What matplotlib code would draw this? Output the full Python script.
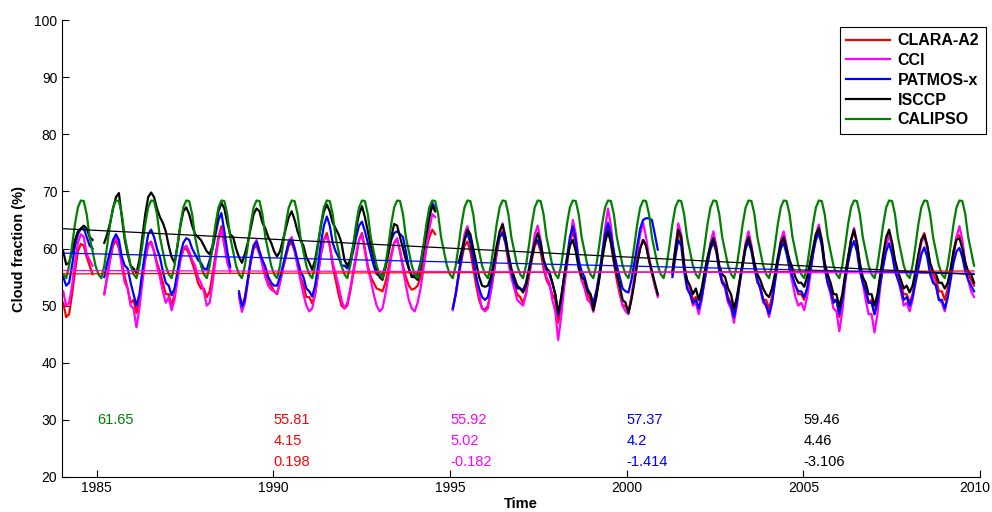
import numpy as np
import matplotlib
matplotlib.use('Agg')
import matplotlib.pyplot as plt
import matplotlib.transforms as mtransforms

nan = np.nan

# monthly cloud fraction (%), one row per year 1984..2009
clara = [
    [50.5, 48.0, 48.5, 52.0, 56.0, 59.5, 60.8, 60.5, 58.5, 57.0, 55.5, nan],
    [nan, nan, 52.0, 55.0, 58.0, 60.5, 61.5, 60.0, 57.5, 55.0, 53.0, 50.5],
    [51.0, 48.7, 51.0, 55.0, 58.5, 60.8, 61.2, 59.5, 57.5, 56.0, 54.0, 52.0],
    [52.0, 50.0, 52.0, 55.0, 58.0, 59.8, 60.0, 59.0, 57.5, 56.0, 54.0, 53.0],
    [53.0, 51.5, 52.5, 55.5, 59.0, 62.0, 63.9, 61.0, 58.0, 56.0, nan, nan],
    [52.0, 50.0, 51.5, 54.5, 57.5, 60.0, 60.5, 59.0, 57.5, 55.5, 54.0, 53.5],
    [52.5, 52.0, 54.0, 56.5, 58.5, 60.5, 61.0, 59.5, 57.0, 55.0, 53.5, 51.5],
    [51.5, 50.4, 52.0, 55.5, 59.0, 61.5, 62.7, 60.5, 57.0, 54.5, 52.0, 50.0],
    [49.5, 50.0, 52.5, 55.5, 58.5, 61.5, 62.7, 60.0, 57.0, 55.0, 54.0, 53.0],
    [52.8, 52.5, 54.0, 56.5, 59.0, 61.0, 61.5, 59.5, 57.0, 55.0, 53.5, 52.8],
    [53.0, 53.5, 55.0, 57.5, 60.0, 62.0, 63.3, 62.5, nan, nan, nan, nan],
    [nan, 49.5, 52.0, 55.0, 58.0, 60.5, 61.2, 59.5, 56.5, 53.5, 51.0, 49.5],
    [49.3, 50.0, 52.5, 55.5, 59.0, 62.0, 63.0, 61.0, 57.5, 55.0, 53.5, 52.0],
    [51.5, 50.5, 52.0, 55.0, 58.0, 60.5, 61.2, 59.5, 56.5, 54.5, 53.5, 52.0],
    [51.0, 47.0, 50.0, 54.0, 57.5, 61.0, 63.0, 61.0, 57.0, 54.5, 53.5, 52.0],
    [51.0, 49.8, 52.0, 55.0, 58.5, 61.5, 63.5, 61.0, 57.5, 54.5, 52.0, 50.0],
    [50.0, 49.0, 51.5, 54.5, 57.5, 60.0, 61.5, 60.5, 58.0, 55.5, 53.5, 51.8],
    [nan, nan, nan, nan, 55.5, 59.5, 62.5, 61.5, 57.0, 54.0, 53.0, 51.0],
    [51.5, 49.5, 51.5, 54.5, 57.5, 60.0, 61.0, 59.5, 56.5, 54.5, 53.5, 51.5],
    [50.5, 48.5, 51.0, 54.5, 57.5, 60.5, 62.0, 60.0, 57.0, 54.0, 53.5, 51.0],
    [51.0, 49.5, 51.5, 55.0, 58.0, 60.5, 61.5, 60.0, 57.0, 55.0, 53.5, 52.0],
    [52.0, 51.0, 53.0, 56.0, 59.5, 62.0, 63.2, 61.0, 57.0, 54.5, 53.0, 51.0],
    [51.0, 48.0, 51.0, 55.0, 58.5, 61.5, 63.0, 61.0, 57.0, 54.5, 53.0, 50.5],
    [51.0, 48.5, 51.0, 55.0, 58.5, 61.5, 62.7, 61.0, 57.5, 55.5, 53.5, 52.0],
    [52.0, 50.5, 52.0, 55.0, 58.5, 61.5, 62.7, 60.5, 57.0, 55.5, 54.5, 52.5],
    [52.5, 51.0, 53.0, 56.0, 59.5, 62.0, 62.3, 60.5, 57.5, 55.5, 54.5, 53.5],
]

cci = [
    [52.5, 50.0, 50.5, 53.5, 57.5, 61.0, 62.5, 62.0, 59.0, 58.0, 57.0, nan],
    [nan, nan, 52.0, 55.0, 58.5, 61.0, 62.0, 60.5, 57.0, 54.0, 53.0, 50.0],
    [49.5, 46.2, 49.5, 54.0, 58.0, 60.5, 61.0, 59.5, 57.0, 55.0, 52.5, 50.5],
    [51.5, 49.2, 51.0, 54.5, 58.0, 60.0, 60.5, 59.5, 58.0, 57.0, 55.0, 54.0],
    [52.5, 50.0, 50.5, 54.0, 58.0, 61.5, 63.3, 60.5, 57.5, 56.0, nan, nan],
    [51.5, 48.9, 50.5, 54.0, 58.0, 60.5, 61.5, 59.5, 57.0, 55.0, 53.5, 52.8],
    [52.5, 52.2, 54.0, 56.5, 59.0, 61.3, 62.0, 60.0, 57.0, 54.5, 52.0, 50.0],
    [49.0, 49.5, 52.0, 55.5, 59.0, 61.5, 62.1, 60.5, 57.5, 55.6, 53.5, 51.0],
    [49.5, 50.5, 53.0, 56.0, 59.0, 61.5, 62.4, 59.5, 56.5, 54.5, 52.0, 50.0],
    [49.0, 49.5, 52.0, 55.0, 58.5, 61.0, 61.8, 59.5, 56.5, 53.5, 51.0, 49.5],
    [49.0, 50.5, 53.0, 56.5, 60.0, 63.5, 66.0, 65.5, nan, nan, nan, nan],
    [nan, 49.2, 52.0, 55.5, 59.0, 62.5, 63.9, 62.0, 58.5, 55.0, 52.0, 49.5],
    [49.0, 49.5, 52.5, 56.0, 59.5, 62.5, 64.4, 62.0, 58.0, 55.0, 53.0, 51.0],
    [50.5, 50.0, 52.0, 55.5, 59.0, 62.5, 64.0, 61.5, 57.5, 55.0, 54.0, 51.0],
    [49.0, 44.0, 48.0, 53.0, 57.0, 61.0, 65.0, 62.5, 57.5, 54.5, 53.0, 51.0],
    [50.5, 48.9, 51.5, 55.0, 59.0, 63.5, 67.0, 64.0, 59.0, 55.5, 52.5, 50.0],
    [49.0, 48.5, 51.5, 55.0, 59.0, 62.5, 64.5, 62.0, 58.5, 56.0, 53.5, 51.5],
    [nan, nan, nan, nan, 55.5, 60.0, 64.4, 62.5, 57.5, 54.0, 52.5, 50.0],
    [50.5, 48.5, 51.0, 54.5, 58.0, 61.0, 63.0, 60.5, 56.5, 54.0, 53.0, 50.5],
    [49.5, 47.0, 50.0, 54.0, 57.5, 61.0, 63.0, 60.5, 57.0, 54.5, 53.0, 50.5],
    [50.0, 48.0, 50.5, 54.5, 58.0, 61.5, 63.0, 60.5, 56.5, 54.0, 51.5, 50.0],
    [50.5, 49.2, 51.5, 55.0, 59.0, 62.5, 64.2, 61.5, 57.0, 54.0, 52.0, 49.5],
    [49.0, 45.5, 49.0, 54.0, 58.0, 61.5, 63.6, 61.0, 57.0, 54.0, 51.0, 48.5],
    [48.5, 45.3, 48.5, 53.5, 57.0, 60.5, 62.3, 60.5, 57.0, 55.0, 52.5, 50.0],
    [50.5, 49.0, 51.0, 54.5, 58.0, 61.0, 62.2, 60.0, 56.5, 54.5, 53.5, 51.0],
    [50.5, 49.0, 51.5, 55.0, 58.5, 62.0, 63.9, 61.5, 57.5, 54.5, 52.5, 51.5],
]

patmos = [
    [55.0, 53.5, 54.0, 57.0, 60.5, 62.5, 63.5, 63.5, 62.0, 60.5, 60.0, nan],
    [nan, nan, 55.0, 57.5, 59.5, 61.5, 62.5, 61.5, 58.5, 57.0, 56.5, 54.0],
    [52.0, 50.0, 52.0, 56.0, 59.5, 62.5, 63.3, 62.0, 60.0, 58.5, 56.0, 54.0],
    [53.5, 51.8, 53.0, 56.0, 59.0, 61.0, 61.8, 61.5, 60.0, 59.0, 58.0, 57.5],
    [56.5, 56.3, 58.0, 60.0, 62.5, 65.0, 66.2, 63.0, 59.5, 56.8, nan, nan],
    [52.5, 49.8, 51.0, 54.5, 58.0, 60.5, 61.2, 59.5, 58.0, 56.8, 55.0, 54.0],
    [53.5, 53.5, 55.0, 57.0, 59.0, 61.0, 61.5, 60.0, 58.0, 56.0, 55.0, 53.0],
    [52.5, 51.6, 53.5, 57.0, 61.0, 64.0, 65.6, 64.0, 61.0, 59.5, 58.5, 57.0],
    [57.0, 56.5, 57.5, 59.5, 62.0, 64.0, 64.7, 63.0, 61.0, 59.0, 57.0, 55.5],
    [55.3, 55.5, 57.0, 59.5, 61.5, 62.7, 63.0, 62.5, 62.0, 59.5, 56.5, 55.3],
    [55.3, 55.5, 57.5, 60.5, 63.5, 66.5, 68.0, 67.0, nan, nan, nan, nan],
    [nan, 49.5, 52.0, 55.5, 58.5, 61.5, 62.7, 61.0, 58.0, 55.0, 53.0, 51.5],
    [51.0, 51.5, 54.0, 57.0, 60.0, 62.0, 62.7, 61.0, 58.5, 56.0, 54.0, 53.0],
    [53.0, 52.7, 54.0, 56.5, 59.0, 61.0, 61.5, 60.0, 58.0, 56.5, 55.5, 54.0],
    [52.0, 48.3, 51.0, 55.0, 58.5, 62.0, 63.9, 61.5, 58.0, 56.0, 55.0, 53.0],
    [52.0, 50.5, 52.5, 55.5, 59.0, 62.5, 64.5, 62.5, 59.5, 57.0, 55.0, 53.0],
    [52.5, 52.3, 54.5, 57.5, 60.5, 63.5, 65.0, 65.3, 65.3, 65.0, 62.5, 59.8],
    [nan, nan, nan, nan, 55.0, 58.5, 61.5, 60.5, 56.0, 53.0, 52.0, 50.5],
    [51.0, 49.5, 51.5, 54.5, 57.5, 60.0, 61.2, 59.5, 56.0, 54.0, 53.5, 51.0],
    [50.0, 48.0, 50.5, 54.0, 57.0, 60.0, 61.2, 59.5, 56.5, 54.5, 53.0, 51.0],
    [50.0, 48.5, 50.5, 54.0, 57.5, 60.0, 61.0, 59.0, 56.5, 55.0, 53.5, 52.5],
    [52.5, 51.5, 53.0, 56.0, 59.0, 61.5, 62.7, 60.5, 56.5, 54.0, 52.5, 50.5],
    [51.0, 48.5, 51.0, 54.5, 57.5, 60.0, 61.3, 59.5, 56.0, 54.0, 52.5, 50.5],
    [50.5, 48.5, 50.5, 54.0, 57.0, 59.5, 60.9, 59.0, 56.0, 54.5, 53.0, 51.0],
    [51.5, 50.0, 51.5, 54.0, 56.5, 59.0, 60.2, 58.5, 55.5, 54.0, 53.5, 51.0],
    [51.0, 49.5, 51.5, 54.5, 57.5, 59.5, 60.1, 58.5, 56.0, 54.5, 53.5, 52.5],
]

isccp = [
    [59.5, 57.2, 57.5, 59.5, 61.5, 63.0, 63.5, 64.0, 63.5, 62.0, 61.5, nan],
    [nan, nan, 61.0, 62.5, 64.5, 67.0, 69.0, 69.7, 65.5, 61.5, 59.0, 57.0],
    [56.5, 55.7, 58.0, 62.0, 66.0, 69.0, 69.8, 69.0, 67.0, 65.5, 64.5, 63.0],
    [60.5, 58.5, 57.5, 60.5, 64.0, 66.5, 67.2, 66.0, 64.0, 62.5, 62.0, 61.5],
    [60.5, 59.5, 59.0, 60.5, 63.5, 66.5, 68.0, 67.0, 64.5, 62.5, 62.0, 60.0],
    [58.5, 57.5, 59.0, 61.0, 63.5, 66.0, 67.0, 66.5, 64.5, 63.5, 62.0, 61.0],
    [59.5, 58.6, 59.5, 61.5, 63.5, 65.5, 66.5, 65.0, 63.0, 61.5, 60.5, 58.5],
    [57.5, 56.3, 58.0, 61.0, 64.0, 66.5, 67.7, 66.5, 64.5, 63.5, 62.5, 61.0],
    [58.0, 57.0, 58.0, 60.5, 63.5, 66.0, 67.4, 65.5, 63.0, 60.5, 58.5, 56.5],
    [55.0, 54.5, 56.5, 59.0, 62.0, 64.3, 64.0, 62.0, 60.0, 58.0, 56.5, 55.0],
    [55.0, 54.5, 56.5, 59.5, 62.5, 65.5, 67.5, 66.5, nan, nan, nan, nan],
    [nan, nan, nan, 57.5, 59.5, 61.5, 63.3, 62.5, 60.0, 57.5, 55.0, 53.5],
    [53.3, 53.5, 55.0, 57.5, 60.5, 63.0, 64.2, 62.0, 59.0, 56.5, 55.0, 53.5],
    [53.0, 52.3, 53.5, 56.0, 58.5, 61.0, 62.7, 61.0, 58.0, 56.5, 56.0, 54.0],
    [52.0, 48.7, 51.5, 55.0, 58.0, 60.5, 61.5, 59.5, 56.5, 55.0, 54.5, 52.5],
    [52.0, 49.2, 51.5, 54.5, 58.0, 61.0, 63.0, 61.0, 58.0, 55.5, 53.5, 51.0],
    [50.5, 48.7, 51.0, 54.0, 57.5, 60.0, 61.5, 60.5, 58.0, 56.0, 54.0, 52.0],
    [nan, nan, nan, nan, 56.0, 60.0, 63.3, 62.0, 57.0, 54.5, 53.5, 52.0],
    [53.0, 51.0, 53.0, 56.0, 58.5, 60.5, 61.8, 60.0, 57.0, 55.5, 55.0, 53.0],
    [52.0, 49.5, 51.5, 54.5, 57.5, 60.5, 62.0, 60.0, 57.5, 55.5, 54.5, 53.0],
    [52.0, 51.5, 53.0, 55.5, 58.5, 61.0, 62.0, 60.0, 58.0, 56.5, 55.0, 54.0],
    [54.0, 53.3, 55.0, 57.5, 60.0, 62.5, 63.6, 61.5, 57.5, 55.5, 54.0, 52.0],
    [52.0, 49.8, 52.0, 55.5, 58.5, 61.5, 63.3, 61.0, 57.5, 55.0, 54.0, 52.0],
    [52.0, 50.0, 52.0, 55.5, 59.0, 62.0, 63.3, 61.0, 58.0, 56.0, 54.5, 53.0],
    [53.5, 52.3, 53.5, 56.0, 59.0, 61.5, 62.4, 60.5, 57.5, 56.0, 55.5, 54.0],
    [54.0, 53.0, 54.0, 56.5, 59.5, 61.5, 61.8, 60.0, 57.5, 56.0, 55.5, 54.0],
]

# CALIPSO monthly climatology, repeated every year
calipso_clim = [55.5, 54.8, 57.0, 60.5, 64.3, 67.2, 68.4, 68.3, 66.0, 62.0, 59.5, 57.0]
n_years = 26

names = ['CLARA-A2', 'CCI', 'PATMOS-x', 'ISCCP', 'CALIPSO']
colors = ['#ff0000', '#ff00ff', '#0000ff', '#000000', '#008000']
means = ['55.81', '55.92', '57.37', '59.46', '61.65']
stds = ['4.15', '5.02', '4.2', '4.46', '']
trends = ['0.198', '-0.182', '-1.414', '-3.106', '']   # per decade
text_x = [1990, 1995, 2000, 2005, 1985]

series = [np.array(clara).ravel(), np.array(cci).ravel(),
          np.array(patmos).ravel(), np.array(isccp).ravel(),
          np.tile(calipso_clim, n_years)]

t = 1984.05 + np.arange(12 * n_years) * 0.0829

plt.rcParams['font.family'] = ['Liberation Sans', 'DejaVu Sans']

fig = plt.figure(figsize=(9.92, 5.12), dpi=100)
ax = fig.add_axes([61.5 / 992, 1 - 477 / 512, (980 - 61.5) / 992, 457 / 512])

for y, c, name in zip(series, colors, names):
    ax.plot(t, y, color=c, lw=1.6, label=name)

# linear trend lines (mean + trend/decade)
for y, c, m, tr in zip(series[:4], colors[:4], means[:4], trends[:4]):
    ok = ~np.isnan(y)
    t0, t1 = t[ok][0], t[ok][-1]
    tm = 0.5 * (t0 + t1)
    tt = np.array([t0, t1])
    ax.plot(tt, float(m) + float(tr) / 10 * (tt - tm), color=c, lw=0.9)

# statistics text
for x, c, m, s, tr in zip(text_x, colors, means, stds, trends):
    for yy, s_ in zip([30, 26.3, 22.7], [m, s, tr]):
        if s_:
            ax.text(x, yy, s_, color=c, fontsize=10.5, ha='left', va='center')

ax.set_xlim(1984, 2010)
ax.set_ylim(20, 100)
ax.set_xticks([1985, 1990, 1995, 2000, 2005, 2010])
ax.set_yticks(np.arange(20, 101, 10))
ax.tick_params(direction='in', length=5, labelsize=10, width=0.8, pad=3)
ax.spines['top'].set_visible(False)
ax.spines['right'].set_visible(False)
ax.set_xlabel('Time', fontsize=10.5, fontweight='bold', labelpad=1)
ax.set_ylabel('Cloud fraction (%)', fontsize=10.5, fontweight='bold', labelpad=6)

# keep the last year label inside the figure
last = ax.get_xticklabels()[-1]
last.set_transform(last.get_transform() +
                   mtransforms.ScaledTranslation(-5 / 100, 0, fig.dpi_scale_trans))

leg = ax.legend(loc='upper right', bbox_to_anchor=(1.006, 0.985), borderaxespad=0,
                fancybox=False, edgecolor='black', framealpha=1, handlelength=2.7,
                handletextpad=0.5, labelspacing=0.3, borderpad=0.4,
                prop={'size': 11.5, 'weight': 'bold'})
leg.get_frame().set_linewidth(0.8)

fig.savefig('out.png', dpi=100)
